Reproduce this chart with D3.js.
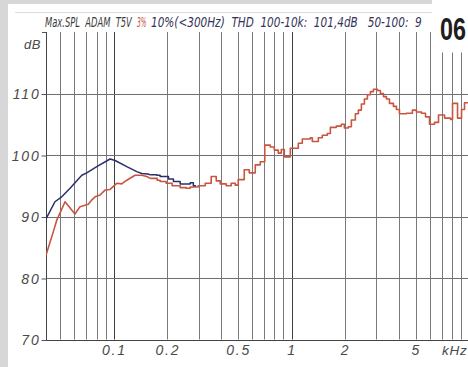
<!DOCTYPE html>
<html>
<head>
<meta charset="utf-8">
<script src="https://cdn.jsdelivr.net/npm/d3@7/dist/d3.min.js"></script>
<style>
  html, body { margin: 0; padding: 0; background: #d7d7d7; }
  svg { display: block; }
</style>
</head>
<body>
<script>
// ---------- DATA ----------
// Frequencies in Hz, levels in dB SPL
const yTicks = [70, 80, 90, 100, 110];
const yTickLabels = ["70", "80", "90", "100", "110"];
const xTickValues = [100, 200, 500, 1000, 2000, 5000];
const xTickLabels = ["0.1", "0.2", "0.5", "1", "2", "5"];
const xGridMinor = [50, 60, 70, 80, 90, 300, 400, 600, 700, 800, 900, 3000, 4000, 6000, 7000, 8000, 9000];
const xGridMajor = [100, 200, 500, 1000, 2000, 5000];
const xGridDecade = [100, 1000];

// Blue curve: 10% THD limit (< 300 Hz)
const blueLowHz = [41.5, 46.6, 50.9, 56.7, 66, 70.4, 80.1, 95.2, 101.6, 118.2, 134.6, 143.6, 155, 160];
const blueLowDb = [89.6, 92.4, 93.2, 94.6, 96.7, 97.1, 98.1, 99.35, 99.1, 98.1, 97.3, 97.0, 96.9, 96.8];
const blueStepHz = [160, 174.3, 182.1, 202.8, 216.4, 236.1, 268.8, 280, 290];
const blueStepDb = [96.8, 96.7, 96.5, 96.1, 95.7, 95.3, 95.5, 95.0, 95.0];

// Red curve: 3% THD limit
const redLowHz = [41.5, 45.6, 47.7, 49.8, 53.1, 60.4, 64.5, 71.8, 75.1, 78.4, 83.6, 89.2, 95.2, 103.8, 110.8, 118.2, 131.6, 143.6, 153.2, 160];
const redLowDb = [83.7, 87.5, 89.4, 90.6, 92.4, 90.4, 91.6, 92.0, 92.7, 93.2, 93.5, 94.3, 94.4, 95.4, 95.3, 95.9, 96.7, 96.7, 96.5, 96.2];
const redStepHz = [160, 175.2, 182.1, 196.9, 212.8, 236.1, 255.2, 268.8, 298.2, 326.5, 352.9, 376.6, 396.6, 428.8, 457.4, 481.9,
  500.9, 541.6, 577.7, 624.6, 666.5, 706.3, 758.6, 799.3, 841.6, 875.2, 910.1, 983.6, 1049.5, 1091, 1149, 1275, 1308, 1414,
  1489, 1589, 1653, 1786, 1906, 1982, 2087, 2170, 2285, 2376, 2470, 2569, 2671, 2777, 2887, 3041, 3161, 3287, 3418, 3553,
  3742, 3890, 4045, 4428, 4785, 5042, 5383, 5669, 5971, 6371, 6711, 7255, 7839, 8047, 8586, 9044, 9400, 10000];
const redStepDb = [96.2, 95.9, 95.7, 95.4, 95.0, 94.7, 94.6, 94.8, 95.0, 95.4, 96.5, 95.8, 95.3, 95.0, 95.4, 95.1,
  96.0, 97.6, 97.1, 98.4, 98.9, 101.6, 101.3, 100.8, 100.3, 100.9, 99.7, 101.1, 101.1, 101.9, 102.6, 102.8, 102.2, 102.8,
  103.2, 103.5, 104.5, 104.7, 105.0, 104.4, 104.6, 105.7, 106.7, 107.3, 108.3, 109.1, 109.8, 110.3, 110.7, 110.5, 110.0, 109.5, 109.1, 108.4,
  107.9, 107.4, 106.7, 106.8, 107.3, 107.0, 106.8, 106.2, 105.0, 105.3, 106.5, 106.0, 105.8, 108.4, 106.0, 107.4, 108.5, 108.5];

// title pieces: text, colour, start x, width (px)
const titleTexts = ["Max.SPL  ADAM  T5V", "3%", "10%(<300Hz)  THD  100-10k:  101,4dB   50-100:  9"];
const titleColors = ["#3c3c3c", "#c8573f", "#33335a"];
const titleX = [45, 137, 151];
const titleW = [87, 9.5, 271];

// ---------- LAYOUT ----------
const W = 468, H = 367;
const svg = d3.select("body").append("svg").attr("width", W).attr("height", H);

// background panels
svg.append("rect").attr("x", 0).attr("y", 0).attr("width", W).attr("height", H).attr("fill", "#d7d7d7");
svg.append("rect").attr("x", 8).attr("y", 4).attr("width", W - 8).attr("height", H - 4).attr("fill", "#ffffff");
svg.append("line").attr("x1", 15).attr("x2", 432).attr("y1", 12.5).attr("y2", 12.5)
  .attr("stroke", "#dcdcdc").attr("stroke-width", 1);

const x = d3.scaleLog().domain([41.5, 10000]).range([46, 469.3]);
const y = d3.scaleLinear().domain([70, 120]).range([339.5, 32]);
const yTop = y(120), yBot = y(70);

const grid = svg.append("g");
// vertical grid
grid.selectAll("line.vmin").data(xGridMinor.concat(xGridMajor.filter(d => !xGridDecade.includes(d))))
  .enter().append("line")
  .attr("x1", d => Math.round(x(d)) + 0.5).attr("x2", d => Math.round(x(d)) + 0.5)
  .attr("y1", yTop).attr("y2", yBot)
  .attr("stroke", "#7a7a7a").attr("stroke-width", 1);
grid.selectAll("line.vdec").data(xGridDecade).enter().append("line")
  .attr("x1", d => Math.round(x(d)) + 0.5).attr("x2", d => Math.round(x(d)) + 0.5)
  .attr("y1", yTop).attr("y2", yBot)
  .attr("stroke", "#3f3f3f").attr("stroke-width", 1);
// horizontal grid
grid.selectAll("line.h").data(yTicks.filter(d => d > 70)).enter().append("line")
  .attr("x1", 46).attr("x2", W)
  .attr("y1", d => Math.round(y(d)) + 0.5).attr("y2", d => Math.round(y(d)) + 0.5)
  .attr("stroke", "#6e6e6e").attr("stroke-width", 1);

// axes lines
svg.append("line").attr("x1", 46.5).attr("x2", 46.5).attr("y1", yTop).attr("y2", yBot + 0.5)
  .attr("stroke", "#444").attr("stroke-width", 1);
svg.append("line").attr("x1", 46).attr("x2", W).attr("y1", Math.round(yBot) + 0.5).attr("y2", Math.round(yBot) + 0.5)
  .attr("stroke", "#444").attr("stroke-width", 1);

// y axis ticks and labels
const yAxis = d3.axisLeft(y).tickValues(yTicks).tickSize(5).tickFormat((d, i) => yTickLabels[i]);
const gy = svg.append("g").attr("transform", "translate(46.5,0)").call(yAxis);
gy.select(".domain").remove();
gy.selectAll(".tick line").attr("stroke", "#555").attr("transform", "translate(0,0.5)");
gy.selectAll(".tick text")
  .attr("x", -6).attr("dy", "0.36em")
  .style("font-family", "'Liberation Sans', Arial, sans-serif")
  .style("font-style", "italic").style("font-size", "14px").style("letter-spacing", "1.8px")
  .attr("fill", "#4a4a4a");
svg.append("line").attr("x1", 42).attr("x2", 46).attr("y1", yTop + 0.5).attr("y2", yTop + 0.5).attr("stroke", "#555");
svg.append("text").attr("x", 41).attr("y", 49).attr("text-anchor", "end")
  .style("font-family", "'Liberation Sans', Arial, sans-serif")
  .style("font-style", "italic").style("font-size", "13px").style("letter-spacing", "0.5px")
  .attr("fill", "#4a4a4a").text("dB");

// x axis labels
const xAxis = d3.axisBottom(x).tickValues(xTickValues).tickSize(0).tickFormat((d, i) => xTickLabels[i]);
const gx = svg.append("g").attr("transform", `translate(0,${yBot})`).call(xAxis);
gx.select(".domain").remove();
gx.selectAll(".tick text")
  .attr("y", 15.5).attr("dy", 0).attr("dx", "0px")
  .style("font-family", "'Liberation Sans', Arial, sans-serif")
  .style("font-style", "italic").style("font-size", "14px").style("letter-spacing", "1.8px")
  .attr("fill", "#4a4a4a");
svg.append("text").attr("x", 442).attr("y", yBot + 15.5)
  .style("font-family", "'Liberation Sans', Arial, sans-serif")
  .style("font-style", "italic").style("font-size", "13.5px").style("letter-spacing", "0.8px")
  .attr("fill", "#4a4a4a").text("kHz");

// curves
svg.append("clipPath").attr("id", "plotclip").append("rect")
  .attr("x", 46).attr("y", yTop).attr("width", W - 46).attr("height", yBot - yTop);
const curves = svg.append("g").attr("clip-path", "url(#plotclip)");

const lineLin = d3.line().x(d => x(d[0])).y(d => y(d[1])).curve(d3.curveLinear);
const lineStep = d3.line().x(d => x(d[0])).y(d => y(d[1])).curve(d3.curveStepAfter);
const zip = (a, b) => a.map((v, i) => [v, b[i]]);

const redColor = "#c8553f", blueColor = "#2c2e6c";
curves.append("path").attr("d", lineLin(zip(redLowHz, redLowDb)))
  .attr("fill", "none").attr("stroke", redColor).attr("stroke-width", 1.6).attr("stroke-linejoin", "round");
curves.append("path").attr("d", lineStep(zip(redStepHz, redStepDb)))
  .attr("fill", "none").attr("stroke", redColor).attr("stroke-width", 1.6).attr("stroke-linejoin", "round");
curves.append("path").attr("d", lineLin(zip(blueLowHz, blueLowDb)))
  .attr("fill", "none").attr("stroke", blueColor).attr("stroke-width", 1.5).attr("stroke-linejoin", "round");
curves.append("path").attr("d", lineStep(zip(blueStepHz, blueStepDb)))
  .attr("fill", "none").attr("stroke", blueColor).attr("stroke-width", 1.5).attr("stroke-linejoin", "round");

// helper: fit a text horizontally to a target width by scaling its group
function fitText(g, node, targetW) {
  const nat = node.getComputedTextLength();
  const s = nat > 0 ? targetW / nat : 1;
  g.attr("transform", g.attr("transform") + ` scale(${s},1)`);
}

// title (separate pieces so each keeps its colour)
titleTexts.forEach((t, i) => {
  const g = svg.append("g").attr("transform", `translate(${titleX[i]},27)`);
  const tx = g.append("text").attr("x", 0).attr("y", 0)
    .attr("xml:space", "preserve")
    .style("font-family", "'Liberation Sans Narrow', 'DejaVu Sans Condensed', 'Liberation Sans', sans-serif")
    .style("font-style", "italic").style("font-size", "13.5px")
    .attr("fill", titleColors[i]).text(t);
  fitText(g, tx.node(), titleW[i]);
});

// page-number box
svg.append("rect").attr("x", 432).attr("y", 0).attr("width", W - 432).attr("height", 52.5).attr("fill", "#ffffff");
const g06 = svg.append("g").attr("transform", "translate(440,39.5)");
const t06 = g06.append("text").attr("x", 0).attr("y", 0)
  .style("font-family", "'Liberation Sans Narrow', 'Liberation Sans', sans-serif")
  .style("font-weight", "bold").style("font-size", "32px")
  .attr("fill", "#1e1e1e").text("06");
fitText(g06, t06.node(), 26);
</script>
</body>
</html>
